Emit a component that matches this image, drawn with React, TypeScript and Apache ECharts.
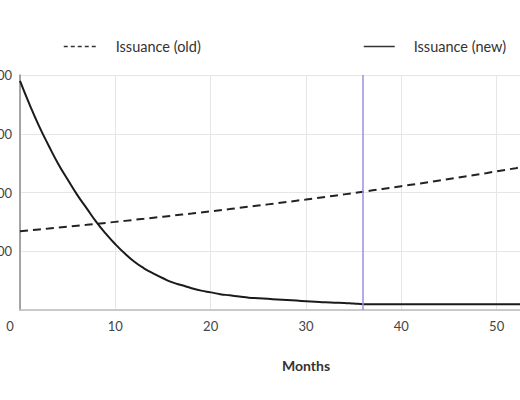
import React, { useEffect, useRef } from "react";
import * as echarts from "echarts";

const months: number[] = [
  0, 1, 2, 3, 4, 5, 6, 7, 8, 9, 10, 11, 12, 13, 14, 15, 16, 17, 18, 19, 20,
  21, 22, 23, 24, 25, 26, 27, 28, 29, 30, 31, 32, 33, 34, 35, 36, 37, 38, 39, 40,
  41, 42, 43, 44, 45, 46, 47, 48, 49, 50, 51, 52, 53, 54, 55, 56, 57, 58, 59, 60,
];

const issuanceOld: number[] = [
  134, 135.5, 137.1, 138.6, 140.2, 141.8, 143.4, 145, 146.7, 148.3, 150,
  151.7, 153.5, 155.2, 157, 158.8, 160.6, 162.4, 164.2, 166.1, 168,
  169.9, 171.8, 173.8, 175.8, 177.8, 179.8, 181.8, 183.9, 186, 188.1,
  190.3, 192.4, 194.6, 196.8, 199.1, 201.4, 203.7, 206, 208.3, 210.7,
  213.1, 215.5, 218, 220.5, 223, 225.5, 228.1, 230.7, 233.3, 236,
  238.7, 241.4, 244.2, 247, 249.8, 252.6, 255.5, 258.4, 261.4, 264.3,
];

const issuanceNew: number[] = [
  390, 350, 313, 280, 249, 222, 196, 173, 150, 130, 112,
  96, 82, 71, 62, 54, 47, 42, 37, 33, 30,
  27, 25, 23, 21, 20, 19, 18, 17, 16, 15,
  14, 13, 12.5, 12, 11, 10, 10, 10, 10, 10,
  10, 10, 10, 10, 10, 10, 10, 10, 10, 10,
  10, 10, 10, 10, 10, 10, 10, 10, 10, 10,
];

const yTicks: number[] = [0, 100, 200, 300, 400];
const markerMonth = 36;
const legendNames: string[] = ["Issuance (old)", "Issuance (new)"];
const xAxisName = "Months";

const FONT = "Lato, 'Noto Sans', sans-serif";

export default function App() {
  const ref = useRef<HTMLDivElement>(null);

  useEffect(() => {
    if (!ref.current) return;
    const chart = echarts.init(ref.current, undefined, { renderer: "svg" });
    const oldData = months.map((m, i) => [m, issuanceOld[i]]);
    const newData = months.map((m, i) => [m, issuanceNew[i]]);

    const hiddenSymbol = { color: "transparent", borderColor: "transparent", borderWidth: 0, opacity: 0 };

    chart.setOption({
      animation: false,
      backgroundColor: "#ffffff",
      textStyle: { fontFamily: FONT },
      legend: [
        {
          data: [legendNames[0]],
          left: 58,
          top: 34,
          itemWidth: 32,
          itemHeight: 14,
          itemStyle: hiddenSymbol,
          lineStyle: { type: [4, 3], width: 1.5, color: "#333" },
          textStyle: { fontFamily: FONT, fontSize: 14.5, color: "#333", padding: [0, 0, 0, 15] },
          selectedMode: false,
        },
        {
          data: [legendNames[1]],
          left: 358,
          top: 34,
          itemWidth: 31,
          itemHeight: 14,
          itemStyle: hiddenSymbol,
          lineStyle: { type: "solid", width: 1.5, color: "#333" },
          textStyle: { fontFamily: FONT, fontSize: 14.5, color: "#333", padding: [0, 0, 0, 14] },
          selectedMode: false,
        },
      ],
      grid: {
        left: 20,
        top: 75,
        width: 572,
        height: 235,
        containLabel: false,
        outerBoundsMode: "none",
      },
      xAxis: {
        type: "value",
        min: 0,
        max: 60,
        interval: 10,
        name: xAxisName,
        nameLocation: "middle",
        nameGap: 48,
        nameTextStyle: { fontFamily: FONT, fontSize: 14, fontWeight: "bold", color: "#333" },
        axisLine: { show: true, lineStyle: { color: "#bdbdbd", width: 1.5 } },
        axisTick: { show: false },
        splitLine: { show: true, lineStyle: { color: "#e6e6e6", width: 1 } },
        axisLabel: {
          fontFamily: FONT,
          fontSize: 13,
          color: "#444",
          margin: 9,
          formatter: (v: number) => (v === 0 ? "{z|0}" : String(v)),
          rich: { z: { fontFamily: FONT, fontSize: 13, color: "#444", padding: [0, 20, 0, 0] } },
        },
      },
      yAxis: {
        type: "value",
        min: yTicks[0],
        max: yTicks[yTicks.length - 1],
        interval: 100,
        axisLine: { show: true, lineStyle: { color: "#8a8a8a", width: 1.5 } },
        axisTick: { show: false },
        splitLine: { show: true, lineStyle: { color: "#e6e6e6", width: 1 } },
        axisLabel: {
          fontFamily: FONT,
          fontSize: 13,
          color: "#444",
          margin: 8,
          showMinLabel: false,
        },
      },
      series: [
        {
          name: legendNames[0],
          type: "line",
          data: oldData,
          showSymbol: false,
          symbol: "none",
          smooth: false,
          lineStyle: { color: "#222", width: 2, type: [8, 5] },
          itemStyle: { color: "#222" },
          z: 3,
        },
        {
          name: legendNames[1],
          type: "line",
          data: newData,
          showSymbol: false,
          symbol: "none",
          smooth: true,
          lineStyle: { color: "#1a1a1a", width: 2 },
          itemStyle: { color: "#1a1a1a" },
          z: 4,
          markLine: {
            silent: true,
            symbol: "none",
            label: { show: false },
            lineStyle: { color: "#9d8fdc", width: 1.5, type: "solid" },
            data: [{ xAxis: markerMonth }],
          },
        },
      ],
    });

    return () => chart.dispose();
  }, []);

  return (
    <div
      ref={ref}
      style={{ position: "fixed", left: 0, top: 0, width: 520, height: 400, overflow: "hidden" }}
    />
  );
}
